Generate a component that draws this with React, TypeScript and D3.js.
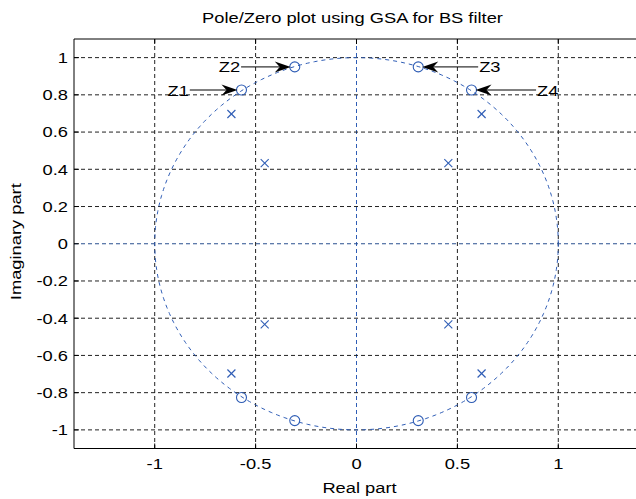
import React from "react";
import * as d3 from "d3";

const title = "Pole/Zero plot using GSA for BS filter";
const xLabel = "Real part";
const yLabel = "Imaginary part";
const xTicks = [-1, -0.5, 0, 0.5, 1];
const yTicks = [-1, -0.8, -0.6, -0.4, -0.2, 0, 0.2, 0.4, 0.6, 0.8, 1];
const xDomain = [-1.4, 1.4];
const yDomain = [-1.1, 1.1];

const zerosRe = [-0.57, -0.306, 0.306, 0.57, -0.57, -0.306, 0.306, 0.57];
const zerosIm = [0.826, 0.95, 0.95, 0.826, -0.826, -0.95, -0.95, -0.826];
const polesRe = [-0.62, -0.455, 0.455, 0.62, -0.62, -0.455, 0.455, 0.62];
const polesIm = [0.697, 0.433, 0.433, 0.697, -0.697, -0.433, -0.433, -0.697];

const annLabels = ["Z1", "Z2", "Z3", "Z4"];
const annZero = [0, 1, 2, 3];
const annTailX = [-0.826, -0.572, 0.603, 0.89];

const W = 636, H = 499;
const M = { left: 74, top: 39, right: 639, bottom: 448.5 };
const font = "Liberation Sans, Arial, sans-serif";
const SX = 1.22;

function Txt({ x, y, anchor = "start", rotate = 0, children }: { x: number; y: number; anchor?: string; rotate?: number; children: React.ReactNode }) {
  return (
    <text
      transform={`translate(${x},${y}) rotate(${rotate}) scale(${SX},1)`}
      fontFamily={font}
      fontSize={15}
      textAnchor={anchor as any}
      fill="#000"
    >
      {children}
    </text>
  );
}

export default function App() {
  const x = d3.scaleLinear().domain(xDomain).range([M.left, M.right]);
  const y = d3.scaleLinear().domain(yDomain).range([M.bottom, M.top]);
  const blue = "#2f5db5";
  const circle = d3.range(0, 361).map((a) => [Math.cos((a * Math.PI) / 180), Math.sin((a * Math.PI) / 180)] as [number, number]);
  const line = d3.line<[number, number]>().x((d) => x(d[0])).y((d) => y(d[1]));
  const r = 5;

  return (
    <svg width={W} height={H} style={{ position: "absolute", left: 0, top: 0, background: "#fff" }}>
      <defs>
        <clipPath id="plot">
          <rect x={M.left} y={M.top} width={M.right - M.left} height={M.bottom - M.top} />
        </clipPath>
      </defs>
      <rect width={W} height={H} fill="#fff" />
      {/* grid */}
      {xTicks.map((t) => (
        <line key={"gx" + t} x1={x(t)} x2={x(t)} y1={M.top} y2={M.bottom} stroke={t === 0 ? blue : "#222"} strokeWidth={1} strokeDasharray="4,3" />
      ))}
      {yTicks.map((t) => (
        <line key={"gy" + t} x1={M.left} x2={M.right} y1={y(t)} y2={y(t)} stroke={t === 0 ? "#2a4f8f" : "#222"} strokeWidth={1} strokeDasharray="4,3" />
      ))}
      {/* unit circle */}
      <path d={line(circle) || ""} fill="none" stroke={blue} strokeWidth={1} strokeDasharray="4,4" clipPath="url(#plot)" />
      {/* zeros */}
      {zerosRe.map((re, i) => (
        <circle key={"z" + i} cx={x(re)} cy={y(zerosIm[i])} r={r} fill="none" stroke={blue} strokeWidth={1.1} />
      ))}
      {/* poles */}
      {polesRe.map((re, i) => {
        const cx = x(re), cy = y(polesIm[i]), s = 4;
        return (
          <g key={"p" + i} stroke={blue} strokeWidth={1.1}>
            <line x1={cx - s} y1={cy - s} x2={cx + s} y2={cy + s} />
            <line x1={cx - s} y1={cy + s} x2={cx + s} y2={cy - s} />
          </g>
        );
      })}
      {/* annotations */}
      {annLabels.map((lab, i) => {
        const zi = annZero[i];
        const zx = x(zerosRe[zi]);
        const zy = y(zerosIm[zi]);
        const tx = x(annTailX[i]);
        const dir = tx < zx ? 1 : -1;
        const tipX = zx - dir * (r - 1);
        const L = 16, hw = 5.5, notch = 5;
        const head = `M${tipX},${zy} L${tipX - dir * L},${zy - hw} L${tipX - dir * (L - notch)},${zy} L${tipX - dir * L},${zy + hw} Z`;
        return (
          <g key={"a" + i}>
            <line x1={tx} x2={tipX - dir * (L - notch)} y1={zy} y2={zy} stroke="#000" strokeWidth={1} />
            <path d={head} fill="#000" />
            <Txt x={dir === 1 ? tx - 1 : tx + 1} y={zy + 5.5} anchor={dir === 1 ? "end" : "start"}>
              {lab}
            </Txt>
          </g>
        );
      })}
      {/* axes */}
      <line x1={M.left} x2={M.right} y1={M.top} y2={M.top} stroke="#000" strokeWidth={1} />
      <line x1={M.left} x2={M.right} y1={M.bottom} y2={M.bottom} stroke="#000" strokeWidth={1} />
      <line x1={M.left} x2={M.left} y1={M.top} y2={M.bottom} stroke="#000" strokeWidth={1} />
      {xTicks.map((t) => (
        <g key={"tx" + t}>
          <line x1={x(t)} x2={x(t)} y1={M.bottom} y2={M.bottom - 5} stroke="#000" />
          <line x1={x(t)} x2={x(t)} y1={M.top} y2={M.top + 5} stroke="#000" />
          <Txt x={x(t)} y={M.bottom + 20} anchor="middle">{String(t)}</Txt>
        </g>
      ))}
      {yTicks.map((t) => (
        <g key={"ty" + t}>
          <line x1={M.left} x2={M.left + 5} y1={y(t)} y2={y(t)} stroke="#000" />
          <Txt x={M.left - 6} y={y(t) + 5.3} anchor="end">{String(t)}</Txt>
        </g>
      ))}
      <Txt x={359.5} y={493} anchor="middle">{xLabel}</Txt>
      <Txt x={21} y={241.7} anchor="middle" rotate={-90}>{yLabel}</Txt>
      <Txt x={352.5} y={23.3} anchor="middle">{title}</Txt>
    </svg>
  );
}
